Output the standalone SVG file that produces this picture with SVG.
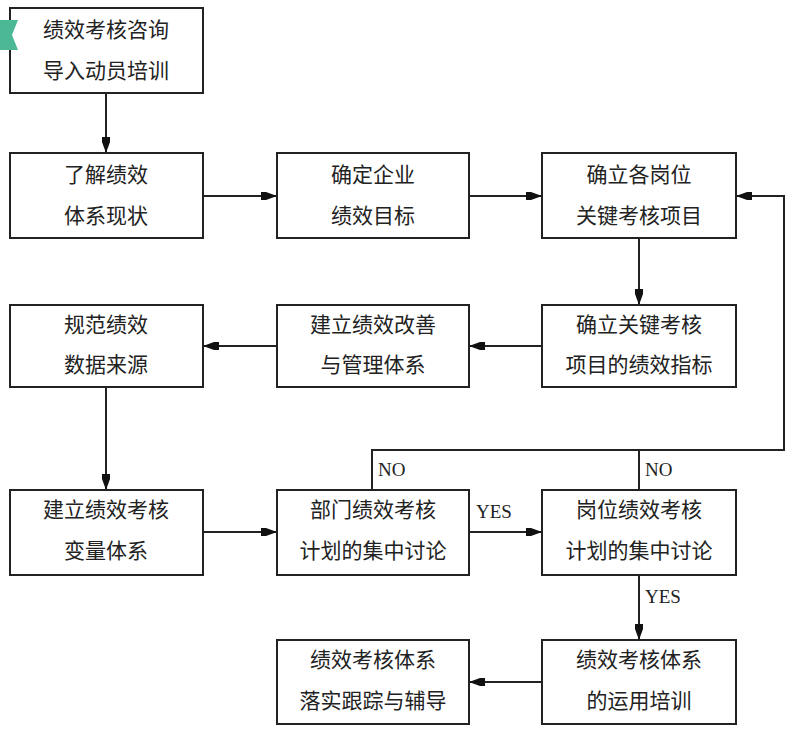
<svg xmlns="http://www.w3.org/2000/svg" width="800" height="733" viewBox="0 0 800 733">
<style>
.b{fill:#fff;stroke:#222;stroke-width:2}
.t{font-family:"Noto Sans CJK SC",sans-serif;font-size:21px;fill:#222;text-anchor:middle}
.l{font-family:"Liberation Serif",serif;font-size:19px;fill:#222}
.c{fill:none;stroke:#222;stroke-width:2}
</style>
<defs>
<marker id="a" viewBox="0 0 16 10" refX="16" refY="5" markerWidth="16" markerHeight="10" markerUnits="userSpaceOnUse" orient="auto">
<path d="M0,1 L5,1 L16,5 L5,9 L0,9 Z" fill="#111"/>
</marker>
</defs>
<rect width="800" height="733" fill="#fff"/>
<g id="connectors">
<path class="c" d="M106,93 V153" marker-end="url(#a)"/>
<path class="c" d="M203,196 H277" marker-end="url(#a)"/>
<path class="c" d="M469,196 H542" marker-end="url(#a)"/>
<path class="c" d="M639,238 V305" marker-end="url(#a)"/>
<path class="c" d="M542,346 H469" marker-end="url(#a)"/>
<path class="c" d="M277,346 H203" marker-end="url(#a)"/>
<path class="c" d="M106,387 V490" marker-end="url(#a)"/>
<path class="c" d="M203,532 H277" marker-end="url(#a)"/>
<path class="c" d="M469,532 H542" marker-end="url(#a)"/>
<path class="c" d="M639,575 V640" marker-end="url(#a)"/>
<path class="c" d="M542,682 H469" marker-end="url(#a)"/>
<path class="c" d="M372,490 V450 H784 V196 H736" marker-end="url(#a)"/>
<path class="c" d="M639,490 V450"/>
<text class="l" x="378" y="476">NO</text>
<text class="l" x="645" y="476">NO</text>
<text class="l" x="476" y="518">YES</text>
<text class="l" x="645" y="603">YES</text>
</g>
<g id="n1"><rect class="b" x="10" y="8" width="193" height="85"/><text class="t" x="106" y="37">绩效考核咨询</text><text class="t" x="106" y="78">导入动员培训</text></g>
<g id="n2"><rect class="b" x="10" y="153" width="193" height="85"/><text class="t" x="106" y="182">了解绩效</text><text class="t" x="106" y="223">体系现状</text></g>
<g id="n3"><rect class="b" x="277" y="153" width="192" height="85"/><text class="t" x="373" y="182">确定企业</text><text class="t" x="373" y="223">绩效目标</text></g>
<g id="n4"><rect class="b" x="542" y="153" width="194" height="85"/><text class="t" x="639" y="182">确立各岗位</text><text class="t" x="639" y="223">关键考核项目</text></g>
<g id="n5"><rect class="b" x="542" y="305" width="194" height="82"/><text class="t" x="639" y="332">确立关键考核</text><text class="t" x="639" y="372">项目的绩效指标</text></g>
<g id="n6"><rect class="b" x="277" y="305" width="192" height="82"/><text class="t" x="373" y="332">建立绩效改善</text><text class="t" x="373" y="372">与管理体系</text></g>
<g id="n7"><rect class="b" x="10" y="305" width="193" height="82"/><text class="t" x="106" y="332">规范绩效</text><text class="t" x="106" y="372">数据来源</text></g>
<g id="n8"><rect class="b" x="10" y="490" width="193" height="85"/><text class="t" x="106" y="517">建立绩效考核</text><text class="t" x="106" y="558">变量体系</text></g>
<g id="n9"><rect class="b" x="277" y="490" width="192" height="85"/><text class="t" x="373" y="517">部门绩效考核</text><text class="t" x="373" y="558">计划的集中讨论</text></g>
<g id="n10"><rect class="b" x="542" y="490" width="194" height="85"/><text class="t" x="639" y="517">岗位绩效考核</text><text class="t" x="639" y="558">计划的集中讨论</text></g>
<g id="n11"><rect class="b" x="542" y="640" width="194" height="84"/><text class="t" x="639" y="667">绩效考核体系</text><text class="t" x="639" y="708">的运用培训</text></g>
<g id="n12"><rect class="b" x="277" y="640" width="192" height="84"/><text class="t" x="373" y="667">绩效考核体系</text><text class="t" x="373" y="708">落实跟踪与辅导</text></g>
<path d="M0,20 L18,20 L12,35 L18,50 L0,50 Z" fill="#4cb896"/>
</svg>
